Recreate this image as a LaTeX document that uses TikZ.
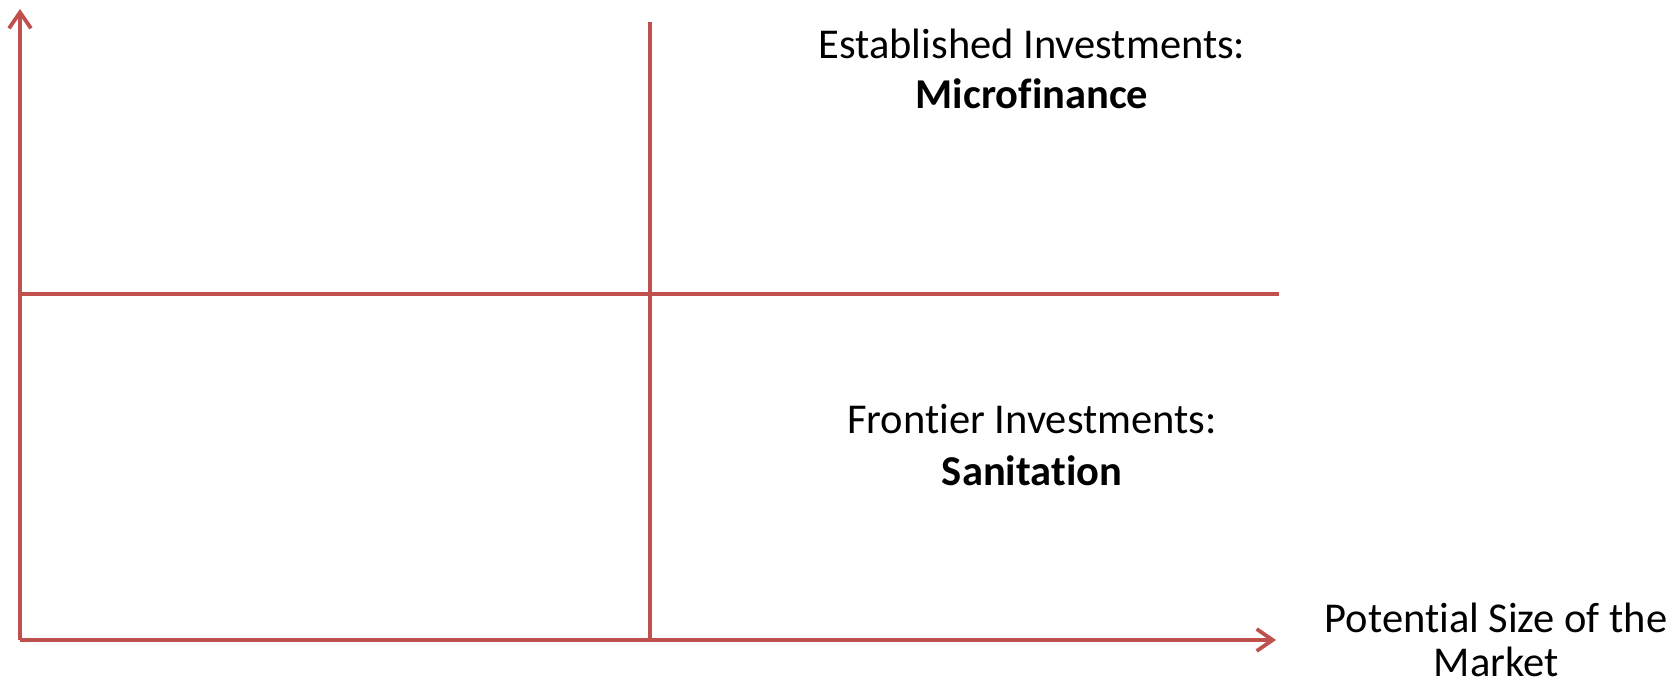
\documentclass[tikz,border=0pt]{standalone}
\usepackage{fontspec}
\setmainfont[Ligatures=NoCommon]{Carlito}
\usetikzlibrary{arrows.meta}
\definecolor{axisred}{HTML}{C0504D}
\begin{document}
\begin{tikzpicture}[x=1pt,y=-1pt,
  axisline/.style={draw=axisred,line width=3.8pt},
  axisarrow/.style={axisline,-{Straight Barb[length=16pt,width=22pt,line width=3.8pt]}},
  label/.style={anchor=base,inner sep=0pt,font=\fontsize{42.5}{51}\selectfont},
  boldlabel/.style={label,font=\fontsize{42.5}{51}\selectfont\bfseries}]
\useasboundingbox (0,0) rectangle (1672,680);
% axis corners and divider end points
\coordinate (O) at (20,640);
\coordinate (ytop) at (20,9);
\coordinate (xend) at (1276,640);
\coordinate (hl) at (20,294);
\coordinate (hr) at (1279,294);
\coordinate (vt) at (650,22);
\coordinate (vb) at (650,640);
% quadrant dividers
\draw[axisline] (hl) -- (hr);
\draw[axisline] (vt) -- (vb);
% axes
\draw[axisarrow] (O) -- (ytop);
\draw[axisarrow] (O) -- (xend);
% quadrant labels
\node[label] (est) at (1032,58) {Established Investments:};
\node[boldlabel] (micro) at (1032,108) {Microfinance};
\node[label] (front) at (1032,433) {Frontier Investments:};
\node[boldlabel] (sani) at (1032,485) {Sanitation};
% x-axis label
\node[label] (xlab1) at (1496,632) {Potential Size of the};
\node[label] (xlab2) at (1496,676) {Market};
\end{tikzpicture}
\end{document}
